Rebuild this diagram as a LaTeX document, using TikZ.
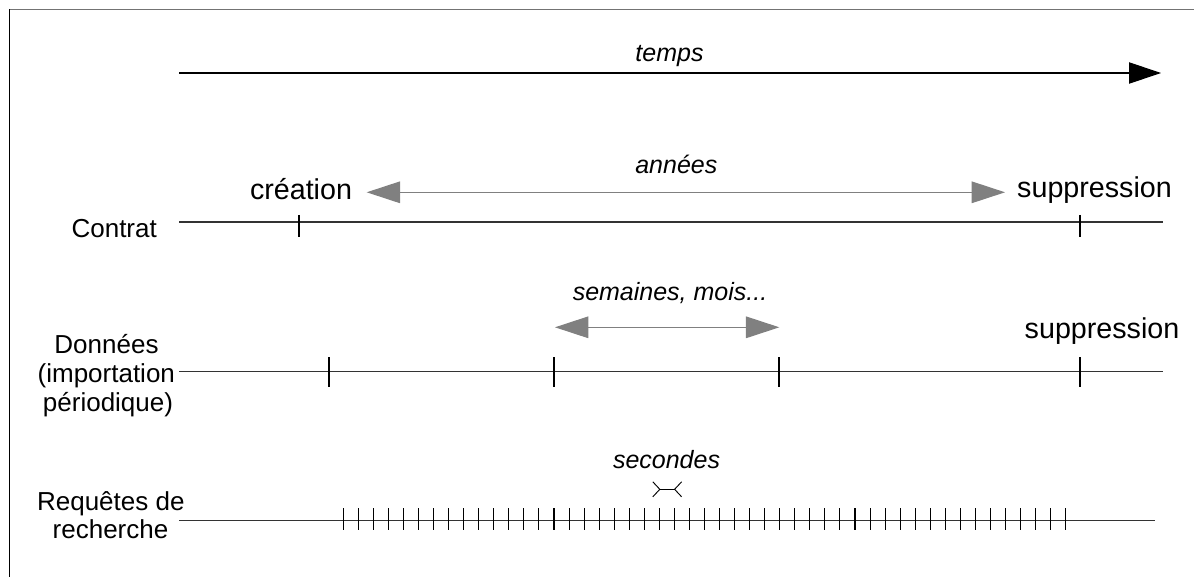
\documentclass[tikz,border=0pt]{standalone}
\usepackage{fontspec}
\setmainfont{Liberation Sans}
\usetikzlibrary{arrows.meta,calc}
\begin{document}
\begin{tikzpicture}[x=0.75pt,y=-0.75pt,
  lbl/.style={inner sep=0pt, anchor=base, font=\fontsize{19.5}{22}\selectfont},
  big/.style={inner sep=0pt, anchor=base, font=\fontsize{21.5}{24}\selectfont},
  ital/.style={inner sep=0pt, anchor=base, font=\fontsize{18.75}{22}\selectfont\itshape},
  axisline/.style={line width=0.8pt, draw=black!80},
  tickmark/.style={line width=0.8pt, draw=black},
  grayarrow/.style={draw=black!50, line width=0.8pt, {Triangle[length=25pt,width=16.2pt]}-{Triangle[length=25pt,width=16.2pt]}},
]
\useasboundingbox (0,0) rectangle (1194,577);
\fill[white] (0,0) rectangle (1194,577);
% frame (partly outside the picture)
\draw[black!55, line width=0.9pt] (9.5,9.5) -- (1194,9.5);
\draw[black, line width=0.8pt] (9.5,9.5) -- (9.5,577);

% time arrow
\coordinate (t0) at (179,73);
\coordinate (t1) at (1161,73);
\draw[line width=0.8pt, -{Triangle[length=24pt,width=16pt]}] (t0) -- (t1);
\node[ital] (temps) at (669.5,62) {temps};

% Contrat row
\node[lbl] (contrat) at (114.2,237.3) {Contrat};
\coordinate (c0) at (179,222);
\coordinate (c1) at (1163,222);
\draw[axisline] (c0) -- (c1);
\foreach \x in {299,1080} \draw[tickmark] (\x,215) -- (\x,237);
\node[big] (creation) at (301,199.3) {création};
\node[big] (supp1) at (1094.5,198) {suppression};
\node[ital] (annees) at (676.3,173.3) {années};
\coordinate (a0) at (366.7,192.3);
\coordinate (a1) at (1005,192.3);
\draw[grayarrow] (a0) -- (a1);

% Donnees row
\node[lbl] (d1) at (106.5,353.3) {Données};
\node[lbl] (d2) at (106.3,382.3) {(importation};
\node[lbl] (d3) at (108,411) {périodique)};
\coordinate (e0) at (179,371.7);
\coordinate (e1) at (1163,371.7);
\draw[axisline] (e0) -- (e1);
\foreach \x in {329,554,779,1080} \draw[tickmark] (\x,357) -- (\x,387);
\node[ital] (semaines) at (670,300.7) {semaines, mois...};
\coordinate (b0) at (555,327.3);
\coordinate (b1) at (779.3,327.3);
\draw[grayarrow] (b0) -- (b1);
\node[big] (supp2) at (1102,338.3) {suppression};

% Requetes row
\node[lbl] (r1) at (110.8,510) {Requêtes de};
\node[lbl] (r2) at (110.5,538.3) {recherche};
\coordinate (f0) at (179,520.7);
\coordinate (f1) at (1155,520.7);
\draw[axisline] (f0) -- (f1);
\foreach \i in {0,...,48} \draw[tickmark] ({343.3+15.05*\i},508) -- ++(0,22);
\node[ital] (secondes) at (666.5,468.3) {secondes};
\coordinate (s0) at (659.8,489.3);
\coordinate (s1) at (674.6,489.3);
\draw[tickmark, line width=0.7pt] (s0) -- (s1);
\draw[tickmark, line width=0.7pt] ($(s0)+(-7,-7.5)$) -- (s0) -- ($(s0)+(-7,7.5)$);
\draw[tickmark, line width=0.7pt] ($(s1)+(7,-7.5)$) -- (s1) -- ($(s1)+(7,7.5)$);
\end{tikzpicture}
\end{document}
